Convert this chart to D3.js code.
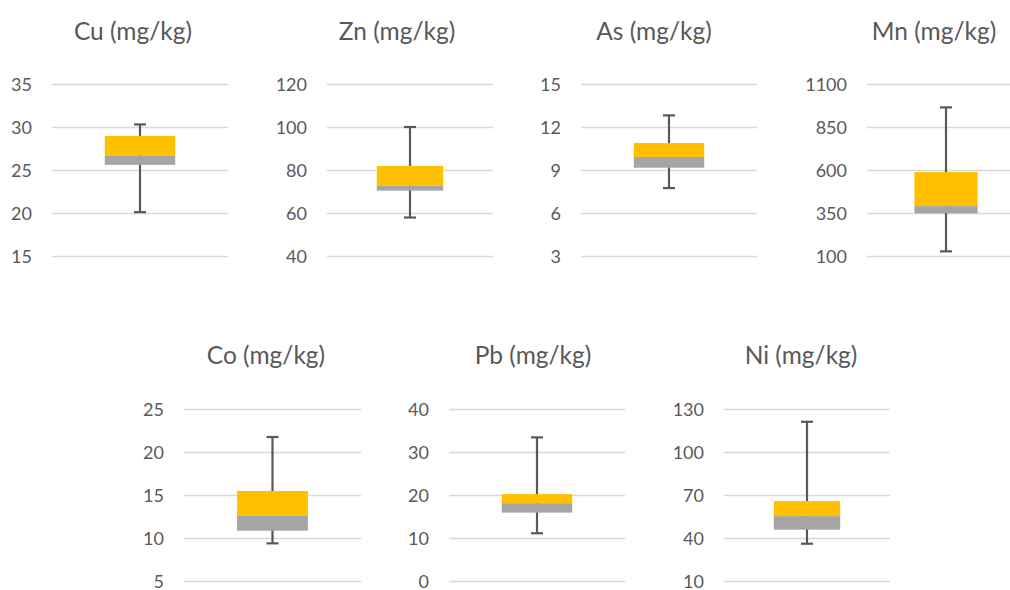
<!DOCTYPE html>
<html>
<head>
<meta charset="utf-8">
<script src="https://cdn.jsdelivr.net/npm/d3@7"></script>
<style>
  html, body { margin: 0; padding: 0; background: #fff; }
  svg { display: block; }
  text { font-family: Lato, "Open Sans", sans-serif; fill: #595959; }
</style>
</head>
<body>
<svg id="chart" width="1010" height="590"></svg>
<script>
// ---- data ----
const elements = ["Cu", "Zn", "As", "Mn", "Co", "Pb", "Ni"];
const unit = "(mg/kg)";
const minValues    = [20.1, 57.9, 7.74, 127, 9.38, 11.1, 36.0];
const q1Values     = [25.6, 70.4, 9.16, 348, 10.85, 15.9, 45.8];
const medianValues = [26.7, 72.6, 9.91, 390, 12.56, 18.1, 55.3];
const q3Values     = [28.95, 81.9, 10.88, 588, 15.47, 20.2, 65.8];
const maxValues    = [30.3, 100, 12.81, 964, 21.74, 33.4, 121.1];
const tickLabels = [
  [15, 20, 25, 30, 35],
  [40, 60, 80, 100, 120],
  [3, 6, 9, 12, 15],
  [100, 350, 600, 850, 1100],
  [5, 10, 15, 20, 25],
  [0, 10, 20, 30, 40],
  [10, 40, 70, 100, 130]
];

// ---- layout (positions only) ----
const layout = [
  { x0: 52,  x1: 228,  y0: 84,  y1: 256, titleX: 133, titleY: 40 },
  { x0: 327, x1: 493,  y0: 84,  y1: 256, titleX: 397, titleY: 40 },
  { x0: 581, x1: 757,  y0: 84,  y1: 256, titleX: 654, titleY: 40 },
  { x0: 867, x1: 1025, y0: 84,  y1: 256, titleX: 934, titleY: 40 },
  { x0: 184, x1: 361,  y0: 409, y1: 581, titleX: 266, titleY: 364 },
  { x0: 449, x1: 625,  y0: 409, y1: 581, titleX: 533, titleY: 364 },
  { x0: 724, x1: 890,  y0: 409, y1: 581, titleX: 801, titleY: 364 }
];

const svg = d3.select("#chart");

elements.forEach((el, i) => {
  const L = layout[i];
  const ticks = tickLabels[i];
  const g = svg.append("g");

  const y = d3.scaleLinear()
    .domain([ticks[0], ticks[ticks.length - 1]])
    .range([L.y1, L.y0]);
  const x = d3.scaleBand()
    .domain([el])
    .range([L.x0, L.x1])
    .padding(0.4286);

  // gridlines + tick labels
  const axis = d3.axisLeft(y)
    .tickValues(ticks)
    .tickSize(-(L.x1 - L.x0))
    .tickPadding(20)
    .tickFormat(d3.format("d"));
  const ag = g.append("g")
    .attr("transform", `translate(${L.x0},0)`)
    .call(axis);
  ag.select(".domain").remove();
  ag.selectAll(".tick line").attr("stroke", "#d9d9d9").attr("stroke-width", 1.5);
  ag.selectAll(".tick text")
    .attr("fill", "#595959")
    .style("font-size", "18px")
    .attr("dy", "0.35em");

  const cx = x(el) + x.bandwidth() / 2;

  // whisker
  g.append("line")
    .attr("x1", cx).attr("x2", cx)
    .attr("y1", y(maxValues[i])).attr("y2", y(minValues[i]))
    .attr("stroke", "#595959").attr("stroke-width", 2.2);
  [maxValues[i], minValues[i]].forEach(v => {
    g.append("line")
      .attr("x1", cx - 6).attr("x2", cx + 6)
      .attr("y1", y(v)).attr("y2", y(v))
      .attr("stroke", "#595959").attr("stroke-width", 2.2);
  });

  // box: lower part (Q1 - median) gray, upper part (median - Q3) yellow
  g.append("rect")
    .attr("x", x(el)).attr("width", x.bandwidth())
    .attr("y", y(medianValues[i]))
    .attr("height", y(q1Values[i]) - y(medianValues[i]))
    .attr("fill", "#a5a5a5");
  g.append("rect")
    .attr("x", x(el)).attr("width", x.bandwidth())
    .attr("y", y(q3Values[i]))
    .attr("height", y(medianValues[i]) - y(q3Values[i]))
    .attr("fill", "#ffc000");

  // title
  svg.append("text")
    .attr("x", L.titleX).attr("y", L.titleY)
    .attr("text-anchor", "middle")
    .style("font-size", "24.5px")
    .text(`${el} ${unit}`);
});
</script>
</body>
</html>
